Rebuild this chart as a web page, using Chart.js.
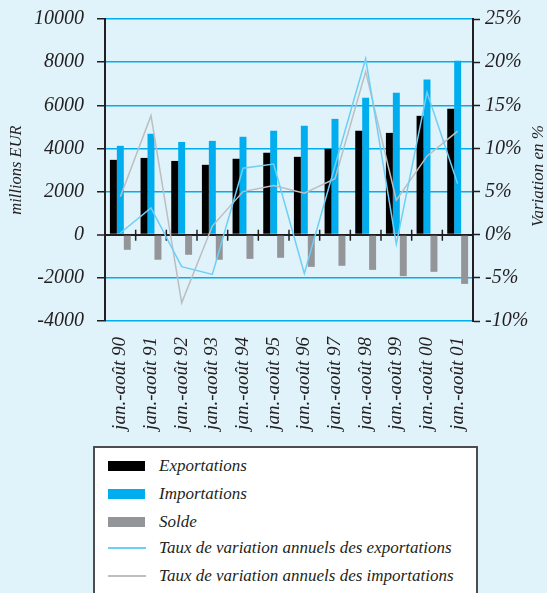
<!DOCTYPE html>
<html><head><meta charset="utf-8">
<script src="https://cdn.jsdelivr.net/npm/chart.js@4/dist/chart.umd.min.js"></script>
<style>
html,body{margin:0;padding:0;background:#e0f2fa;overflow:hidden}
#wrap{position:relative;width:547px;height:593px;overflow:hidden}
#plot{position:absolute;left:0;top:-6px;width:547px;height:599px}
#legend{position:absolute;left:93px;top:446px;width:385px;height:160px;background:#fff;border:2px solid #4d4d4f;box-sizing:border-box;font:italic 17px "Liberation Serif",serif;color:#231f20}
.row{position:absolute;left:13px;height:20px;display:flex;align-items:center;white-space:nowrap}
.sw{width:37px;margin-right:14px}
</style></head>
<body><div id="wrap"><div id="plot"><canvas id="c"></canvas></div><div id="legend"></div></div>
<script>
const categories = ["jan.-août 90","jan.-août 91","jan.-août 92","jan.-août 93","jan.-août 94","jan.-août 95","jan.-août 96","jan.-août 97","jan.-août 98","jan.-août 99","jan.-août 00","jan.-août 01"];
const exportations = [3470,3560,3420,3240,3520,3800,3610,3980,4820,4720,5510,5840];
const importations = [4120,4680,4300,4350,4540,4820,5050,5370,6350,6580,7190,8070];
const solde = [-700,-1160,-930,-1160,-1120,-1070,-1490,-1440,-1630,-1920,-1720,-2280];
const tauxExportations = [0.2,3.1,-3.7,-4.6,7.7,8.2,-4.5,8.0,20.4,-1.1,16.5,5.9];
const tauxImportations = [4.4,13.8,-7.9,1.0,5.0,5.7,4.8,6.5,18.9,4.0,9.1,12.0];
const seriesLabels = ["Exportations","Importations","Solde","Taux de variation annuels des exportations","Taux de variation annuels des importations"];
const leftAxisTitle = "millions EUR";
const rightAxisTitle = "Variation en %";

const colors = {black:"#000000", cyan:"#00aeef", gray:"#939598", lightBlue:"#6dcff6", lightGray:"#bcbec0", axis:"#231f20"};
const serif = '"Liberation Serif", "Times New Roman", serif';

const fit = {xHeight:272, yWidth:105, y1Width:74};

const zeroTicks = {
  id:'zeroTicks',
  beforeDatasetsDraw(chart){
    const {ctx, scales:{x,y}} = chart;
    const y0 = y.getPixelForValue(0);
    const step = x.getPixelForValue(1)-x.getPixelForValue(0);
    ctx.save();
    ctx.strokeStyle = colors.axis; ctx.lineWidth = 1.5;
    for(let i=0;i<=categories.length;i++){
      const xp = x.getPixelForValue(0) - step/2 + i*step;
      ctx.beginPath(); ctx.moveTo(xp, y0-5); ctx.lineTo(xp, y0+6); ctx.stroke();
    }
    ctx.restore();
  },
  afterDraw(chart){
    const {ctx, scales:{y1}} = chart;
    ctx.save();
    ctx.translate(539, (y1.top+y1.bottom)/2 + 6);
    ctx.rotate(-Math.PI/2);
    ctx.font = 'italic 17px ' + serif;
    ctx.fillStyle = colors.axis;
    ctx.textAlign = 'center'; ctx.textBaseline = 'middle';
    ctx.fillText(rightAxisTitle, 0, 0);
    ctx.restore();
  }
};

const chart = new Chart(document.getElementById('c'), {
  data: {
    labels: categories,
    datasets: [
      {type:'bar', label:seriesLabels[0], data:exportations, backgroundColor:colors.black, yAxisID:'y', order:2},
      {type:'bar', label:seriesLabels[1], data:importations, backgroundColor:colors.cyan, yAxisID:'y', order:2},
      {type:'bar', label:seriesLabels[2], data:solde, backgroundColor:colors.gray, yAxisID:'y', order:2},
      {type:'line', label:seriesLabels[3], data:tauxExportations, borderColor:colors.lightBlue, borderWidth:1.5, pointRadius:0, tension:0, yAxisID:'y1', order:1},
      {type:'line', label:seriesLabels[4], data:tauxImportations, borderColor:colors.lightGray, borderWidth:1.5, pointRadius:0, tension:0, yAxisID:'y1', order:1}
    ]
  },
  options: {
    responsive:true, maintainAspectRatio:false, animation:false,
    layout:{padding:0},
    datasets:{bar:{categoryPercentage:0.68, barPercentage:1.0}},
    plugins:{legend:{display:false}, tooltip:{enabled:false}},
    scales:{
      x:{
        grid:{display:false, drawTicks:false}, border:{display:false},
        ticks:{autoSkip:false, minRotation:90, maxRotation:90, padding:16, color:colors.axis, font:{family:serif, style:'italic', size:19}},
        afterFit(s){ s.height = fit.xHeight; }
      },
      y:{
        position:'left', min:-4000, max:10000,
        ticks:{stepSize:2000, padding:13, color:colors.axis, font:{family:serif, style:'italic', size:20}, callback:v=>String(v)},
        grid:{color:c=>c.tick && c.tick.value===0 ? colors.axis : colors.cyan, lineWidth:c=>c.tick && c.tick.value===0 ? 2 : 1.5, tickColor:colors.axis, tickLength:8, tickWidth:1.5},
        border:{color:colors.axis, width:2},
        title:{display:true, text:leftAxisTitle, color:colors.axis, font:{family:serif, style:'italic', size:16.5}, padding:{top:7,bottom:0}},
        afterFit(s){ s.width = fit.yWidth; }
      },
      y1:{
        position:'right', min:-10, max:25,
        ticks:{stepSize:5, padding:5, color:colors.axis, font:{family:serif, style:'italic', size:20}, callback:v=>v+'%'},
        grid:{drawOnChartArea:false, tickColor:colors.axis, tickLength:7, tickWidth:1.5},
        border:{color:colors.axis, width:2},
        afterFit(s){ s.width = fit.y1Width; }
      }
    }
  },
  plugins:[zeroTicks]
});

const legendEl = document.getElementById('legend');
const rowCenters = [20,48,76,102,130];
chart.data.datasets.forEach((ds,i)=>{
  const row = document.createElement('div');
  row.className = 'row';
  row.style.top = (rowCenters[i]-2-10) + 'px';
  const sw = document.createElement('span');
  sw.className = 'sw';
  if (ds.type === 'bar') { sw.style.height='10px'; sw.style.background = ds.backgroundColor; }
  else { sw.style.height='2px'; sw.style.background = ds.borderColor; sw.style.width='38px'; sw.style.marginRight='13px'; }
  const tx = document.createElement('span');
  tx.textContent = ds.label;
  row.appendChild(sw); row.appendChild(tx);
  legendEl.appendChild(row);
});
</script>
</body></html>
